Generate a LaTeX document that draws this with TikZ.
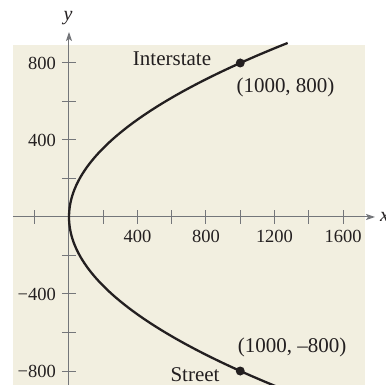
\documentclass[tikz,border=0pt]{standalone}
\usepackage{fontspec}
\setmainfont{Liberation Serif}
\definecolor{paper}{HTML}{F2EFE0}
\definecolor{axisgray}{HTML}{74767A}
\definecolor{ink}{HTML}{231F20}
\tikzset{
  axis/.style={draw=axisgray,line width=1pt,-{Stealth[length=9pt,width=6pt,inset=2pt]}},
  tick/.style={draw=axisgray,line width=1pt},
  ticklabel/.style={font=\fontsize{18.5}{20}\selectfont,text=ink,inner sep=0pt},
  ptlabel/.style={font=\fontsize{21}{24}\selectfont,text=ink,inner sep=0pt},
  dot/.style={circle,fill=ink,inner sep=0pt,minimum size=9pt}
}
\usetikzlibrary{arrows.meta}
\begin{document}
\begin{tikzpicture}[x=0.17125pt,y=0.1925pt]
  \useasboundingbox (-69pt,-168pt) rectangle (317pt,217pt);
  \fill[paper] (-56pt,-168pt) rectangle (296pt,172pt);
  % axes
  \coordinate (xs) at (-56pt,0); \coordinate (xe) at (306pt,0);
  \coordinate (ys) at (0,-168pt); \coordinate (ye) at (0,185pt);
  \draw[axis] (xs) -- (xe);
  \draw[axis] (ys) -- (ye);
  \node[font=\fontsize{20}{22}\selectfont\itshape,text=ink,anchor=west,inner sep=0pt] (xlab) at (311pt,0) {x};
  \node[font=\fontsize{20}{22}\selectfont\itshape,text=ink] (ylab) at (-1pt,199pt) {y};
  \foreach \t in {-200,200,400,...,1600}
    \draw[tick] (\t,-7pt) -- (\t,7pt);
  \foreach \t in {-800,-600,...,-200,200,400,...,800}
    \draw[tick] (-7pt,\t) -- (7pt,\t);
  \foreach \t in {400,800,1200,1600}
    \node[ticklabel] (x\t) at (\t,-19pt) {\t};
  \node[ticklabel,anchor=east] (y800) at (-13pt,800) {800};
  \node[ticklabel,anchor=east] (y400) at (-13pt,400) {400};
  \node[ticklabel,anchor=east] (ym400) at (-13pt,-400) {−400};
  \node[ticklabel,anchor=east] (ym800) at (-13pt,-800) {−800};
  % parabola x = y^2/640
  \draw[ink,line width=2.3pt,domain=-920:904,samples=80,smooth]
    plot ({\x/640*\x},\x);
  \node[dot] (P) at (1000,800) {};
  \node[dot] (Q) at (1000,-800) {};
  \node[ptlabel] (inter) at (103pt,158pt) {Interstate};
  \node[ptlabel] (plab) at (216.5pt,130pt) {(1000, 800)};
  \node[ptlabel] (qlab) at (223pt,-130pt) {(1000, –800)};
  \node[ptlabel] (street) at (126pt,-158pt) {Street};
\end{tikzpicture}
\end{document}
